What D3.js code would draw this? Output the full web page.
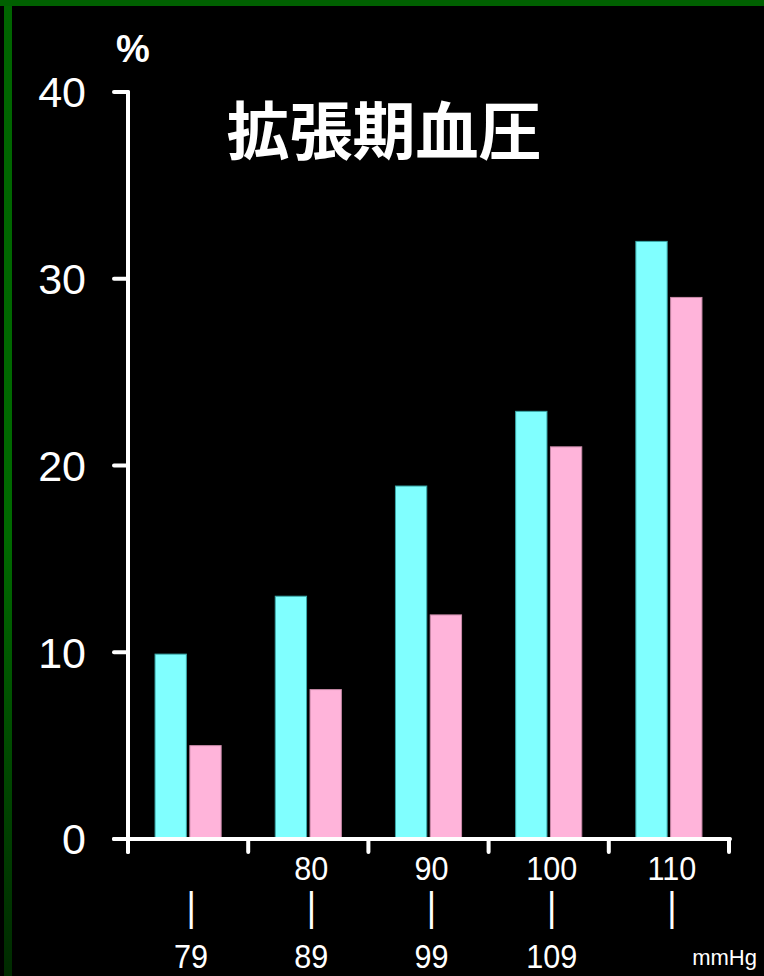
<html>
<head>
<script src="https://d3js.org/d3.v7.min.js"></script>
<style>
  body { margin: 0; background: #000; }
  svg { display: block; }
  .lbl { fill: #fff; font-family: "Liberation Sans", Arial, sans-serif; }
</style>
</head>
<body>
<svg id="chart" width="764" height="976"></svg>
<script>
// data
const groups = ["-79", "80-89", "90-99", "100-109", "110-"];
const series = ["a", "b"];
const cyanValues = [9.9, 13, 18.9, 22.9, 32];
const pinkValues = [5, 8, 12, 21, 29];
const lowLabels = ["", "80", "90", "100", "110"];
const highLabels = ["79", "89", "99", "109", ""];
const yTicks = [0, 10, 20, 30, 40];
const title = "拡張期血圧";

const svg = d3.select("#chart");

// background + green frame
svg.append("rect").attr("width", 764).attr("height", 976).attr("fill", "#000");
const defs = svg.append("defs");
const grad = defs.append("linearGradient").attr("id", "frameGrad")
  .attr("x1", 0).attr("y1", 0).attr("x2", 0).attr("y2", 1);
grad.append("stop").attr("offset", "0%").attr("stop-color", "#006400");
grad.append("stop").attr("offset", "55%").attr("stop-color", "#006a00");
grad.append("stop").attr("offset", "100%").attr("stop-color", "#002a00");
svg.append("rect").attr("x", 4).attr("y", 0).attr("width", 8).attr("height", 976).attr("fill", "url(#frameGrad)");
svg.append("rect").attr("x", 0).attr("y", 0).attr("width", 764).attr("height", 6).attr("fill", "#006000");

const x = d3.scaleBand().domain(groups).range([128, 729]).paddingInner(0.45).paddingOuter(0.225);
const xInner = d3.scaleBand().domain(series).range([0, x.bandwidth()]).paddingInner(0.1);
const y = d3.scaleLinear().domain([0, 40]).range([839, 92]);

const rows = groups.map((g, i) => ({ g, a: cyanValues[i], b: pinkValues[i] }));
const colors = { a: "#80ffff", b: "#ffb4da" };
const strokes = { a: "#3aa8a8", b: "#c98aa8" };

// bars
const gBars = svg.append("g");
gBars.selectAll("g.grp").data(rows).join("g").attr("class", "grp")
  .attr("transform", d => `translate(${x(d.g)},0)`)
  .selectAll("rect").data(d => series.map(s => ({ s, v: d[s] })))
  .join("rect")
  .attr("x", d => xInner(d.s))
  .attr("y", d => y(d.v))
  .attr("width", xInner.bandwidth())
  .attr("height", d => y(0) - y(d.v))
  .attr("fill", d => colors[d.s])
  .attr("stroke", d => strokes[d.s])
  .attr("stroke-width", 1);

// axes
const axis = svg.append("g").attr("stroke", "#fff").attr("stroke-width", 4).attr("stroke-linecap", "round");
axis.append("line").attr("x1", 128).attr("x2", 128).attr("y1", y(40)).attr("y2", y(0) + 13);
axis.selectAll("line.yt").data(yTicks).join("line").attr("class", "yt")
  .attr("x1", 114).attr("x2", 128).attr("y1", d => y(d)).attr("y2", d => y(d));
axis.append("line").attr("x1", 114).attr("x2", 730).attr("y1", y(0)).attr("y2", y(0));
const step = x.step();
const edges = d3.range(groups.length + 1).map(i => x.range()[0] + i * step);
axis.selectAll("line.xt").data(edges).join("line").attr("class", "xt")
  .attr("x1", d => d).attr("x2", d => d).attr("y1", y(0)).attr("y2", y(0) + 13);

// y labels
svg.selectAll("text.yl").data(yTicks).join("text").attr("class", "lbl yl")
  .attr("x", 86).attr("y", d => y(d)).attr("dy", "0.36em")
  .attr("text-anchor", "end").attr("font-size", 43)
  .text(d => d);

svg.append("text").attr("class", "lbl").attr("x", 133).attr("y", 62)
  .attr("text-anchor", "middle").attr("font-size", 38).attr("font-weight", "bold").text("%");

// x labels (slightly condensed like the original)
const cx = g => x(g) + x.bandwidth() / 2 + 3;
const condensed = (sel, yy) => sel
  .attr("transform", d => `translate(${cx(d)},${yy}) scale(0.9,1)`)
  .attr("text-anchor", "middle");
condensed(svg.selectAll("text.xlo").data(groups).join("text").attr("class", "lbl xlo"), 880)
  .attr("font-size", 34).text((d, i) => lowLabels[i]);
condensed(svg.selectAll("text.xbar").data(groups).join("text").attr("class", "lbl xbar"), 921)
  .attr("font-size", 40).text("|");
condensed(svg.selectAll("text.xhi").data(groups).join("text").attr("class", "lbl xhi"), 968)
  .attr("font-size", 34).text((d, i) => highLabels[i]);

svg.append("text").attr("class", "lbl").attr("x", 757).attr("y", 965)
  .attr("text-anchor", "end").attr("font-size", 22).text("mmHg");

// title
svg.append("text").attr("x", 384).attr("y", 154).attr("text-anchor", "middle")
  .attr("fill", "#fff").attr("font-size", 63).attr("font-weight", "bold")
  .attr("font-family", "'Noto Sans CJK JP', sans-serif")
  .text(title);
</script>
</body>
</html>
